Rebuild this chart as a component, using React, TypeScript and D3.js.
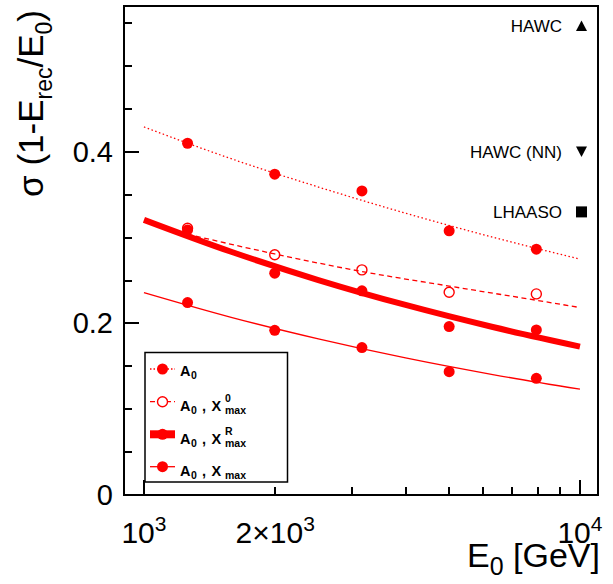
import React from "react";
import * as d3 from "d3";

// Energies of the simulated points (GeV)
const energies = [1259, 1995, 3162, 5012, 7943];

// sigma(1 - Erec/E0) for the four reconstructions
const sigA0 = [0.41, 0.374, 0.3545, 0.308, 0.2865];
const sigA0X0 = [0.311, 0.28, 0.2624, 0.2364, 0.2344];
const sigA0XR = [0.309, 0.2585, 0.238, 0.1963, 0.1924];
const sigA0X = [0.2243, 0.192, 0.1718, 0.1438, 0.136];

// Fit curves
const fitE = [1000, 1585, 2512, 3981, 6310, 10000];
const fitA0 = [0.429, 0.392, 0.359, 0.3285, 0.3005, 0.275];
const fitX0E = [1259, 1995, 3162, 5012, 7943, 10000];
const fitA0X0 = [0.304, 0.281, 0.2605, 0.2435, 0.227, 0.2185];
const fitA0XR = [0.3207, 0.2835, 0.2506, 0.2215, 0.1958, 0.173];
const fitA0X = [0.2359, 0.2071, 0.182, 0.1598, 0.1404, 0.1233];

// axis ticks
const yMajor = [0, 0.2, 0.4];
const yLabels = ["0", "0.2", "0.4"];
const yMinor = [0.05, 0.1, 0.15, 0.25, 0.3, 0.35, 0.45, 0.5, 0.55];
const xMajor = [1000, 10000];
const xMinor = [2000, 3000, 4000, 5000, 6000, 7000, 8000, 9000];

const experiments = ["HAWC", "HAWC (NN)", "LHAASO"];
const expY = [0.547, 0.4, 0.33];

const FONT = "'Liberation Sans', Arial, Helvetica, sans-serif";
const RED = "#ff0000";

export default function App() {
  const x = d3.scaleLog().domain([900, 11000]).range([124, 598]);
  const y = d3.scaleLinear().domain([0, 0.57]).range([495, 6]);
  const line = d3
    .line<[number, number]>()
    .x((d) => x(d[0]))
    .y((d) => y(d[1]))
    .curve(d3.curveMonotoneX);
  const pts = (xs: number[], ys: number[]) =>
    xs.map((e, i) => [e, ys[i]] as [number, number]);
  const r0 = (v: number) => Math.round(v);

  const legendRows = [
    { dash: "1.5,2", width: 1.3, open: false, sup: null as string | null, my: 369, by: 376 },
    { dash: "5,3", width: 1.3, open: true, sup: "0", my: 401.7, by: 411 },
    { dash: null as string | null, width: 8, open: false, sup: "R", my: 434.3, by: 443.5 },
    { dash: null as string | null, width: 1.3, open: false, sup: "", my: 466.7, by: 476 },
  ];

  const tri = (cx: number, cy: number, up: boolean) => {
    const h = 10.5, w = 11;
    return up
      ? `M${cx - w / 2},${cy + h / 2}L${cx + w / 2},${cy + h / 2}L${cx},${cy - h / 2}Z`
      : `M${cx - w / 2},${cy - h / 2}L${cx + w / 2},${cy - h / 2}L${cx},${cy + h / 2}Z`;
  };

  return (
    <svg
      width={613}
      height={584}
      style={{ position: "absolute", left: 0, top: 0, background: "#fff" }}
      fontFamily={FONT}
    >
      <rect x={0} y={0} width={613} height={584} fill="#fff" />

      {/* fit curves */}
      <path d={line(pts(fitE, fitA0)) || ""} fill="none" stroke={RED} strokeWidth={1.3} strokeDasharray="1.5,2.5" />
      <path d={line(pts(fitX0E, fitA0X0)) || ""} fill="none" stroke={RED} strokeWidth={1.3} strokeDasharray="5,3.5" />
      <path d={line(pts(fitE, fitA0X)) || ""} fill="none" stroke={RED} strokeWidth={1.3} />
      <path d={line(pts(fitE, fitA0XR)) || ""} fill="none" stroke={RED} strokeWidth={6} />

      {/* points */}
      {energies.map((e, i) => (
        <g key={"p" + i}>
          <circle cx={x(e)} cy={y(sigA0[i])} r={5.5} fill={RED} />
          <circle cx={x(e)} cy={y(sigA0XR[i])} r={5.5} fill={RED} />
          <circle cx={x(e)} cy={y(sigA0X[i])} r={5.5} fill={RED} />
          <circle cx={x(e)} cy={y(sigA0X0[i])} r={5} fill="none" stroke={RED} strokeWidth={1.4} />
        </g>
      ))}

      {/* frame */}
      <rect x={124} y={6} width={474} height={489} fill="none" stroke="#000" strokeWidth={2} />

      {/* y ticks */}
      {yMajor.map((v, i) => (
        <g key={"ym" + i}>
          <line x1={124} x2={139} y1={r0(y(v))} y2={r0(y(v))} stroke="#000" strokeWidth={2} />
          <text x={113} y={y(v) + 10} fontSize={29} textAnchor="end">
            {yLabels[i]}
          </text>
        </g>
      ))}
      {yMinor.map((v, i) => (
        <line key={"yn" + i} x1={124} x2={132} y1={r0(y(v))} y2={r0(y(v))} stroke="#000" strokeWidth={2} />
      ))}

      {/* x ticks */}
      {xMajor.map((v, i) => (
        <line key={"xm" + i} x1={r0(x(v))} x2={r0(x(v))} y1={495} y2={480} stroke="#000" strokeWidth={2} />
      ))}
      {xMinor.map((v, i) => (
        <line key={"xn" + i} x1={r0(x(v))} x2={r0(x(v))} y1={495} y2={487} stroke="#000" strokeWidth={2} />
      ))}
      <text x={x(1000)} y={543} fontSize={30} textAnchor="middle">
        <tspan>10</tspan>
        <tspan fontSize={21} dy={-12}>3</tspan>
      </text>
      <text x={x(2000)} y={543} fontSize={30} textAnchor="middle">
        <tspan>2×10</tspan>
        <tspan fontSize={21} dy={-12}>3</tspan>
      </text>
      <text x={x(10000)} y={543} fontSize={30} textAnchor="middle">
        <tspan>10</tspan>
        <tspan fontSize={21} dy={-12}>4</tspan>
      </text>

      {/* axis titles */}
      <text x={600} y={567} fontSize={34} textAnchor="end">
        <tspan>E</tspan>
        <tspan fontSize={25} dy={8}>0</tspan>
        <tspan dy={-8}> [GeV]</tspan>
      </text>
      <text transform="translate(43,10) rotate(-90)" fontSize={35} textAnchor="end">
        <tspan>σ (1-E</tspan>
        <tspan fontSize={23} dy={9}>rec</tspan>
        <tspan dy={-9}>/E</tspan>
        <tspan fontSize={23} dy={9}>0</tspan>
        <tspan dy={-9}>)</tspan>
      </text>

      {/* experiment labels */}
      {experiments.map((t, i) => (
        <text key={"ex" + i} x={562} y={y(expY[i]) + 6} fontSize={17} textAnchor="end">
          {t}
        </text>
      ))}
      <path d={tri(581.5, y(expY[0]), true)} fill="#000" />
      <path d={tri(581.5, y(expY[1]), false)} fill="#000" />
      <rect x={576} y={y(expY[2]) - 5.5} width={11} height={11} fill="#000" />

      {/* legend */}
      <rect x={145} y={352.5} width={142.5} height={129.5} fill="#fff" stroke="#000" strokeWidth={1.5} />
      {legendRows.map((r, i) => (
        <g key={"lg" + i}>
          <line
            x1={150}
            x2={175}
            y1={r.my}
            y2={r.my}
            stroke={RED}
            strokeWidth={r.width}
            strokeDasharray={r.dash || undefined}
          />
          {r.open ? (
            <circle cx={162.5} cy={r.my} r={5} fill="#fff" stroke={RED} strokeWidth={1.4} />
          ) : (
            <circle cx={162.5} cy={r.my} r={5.5} fill={RED} />
          )}
          <text x={180} y={r.by} fontSize={14.5} fontWeight="bold">A</text>
          <text x={191} y={r.by + 3} fontSize={10.5} fontWeight="bold">0</text>
          {r.sup !== null && (
            <>
              <text x={202} y={r.by} fontSize={14.5} fontWeight="bold">,</text>
              <text x={211.5} y={r.by} fontSize={14.5} fontWeight="bold">X</text>
              {r.sup && (
                <text x={225} y={r.by - 9} fontSize={10.5} fontWeight="bold">{r.sup}</text>
              )}
              <text x={225} y={r.by + 3} fontSize={10.5} fontWeight="bold">max</text>
            </>
          )}
        </g>
      ))}
    </svg>
  );
}
